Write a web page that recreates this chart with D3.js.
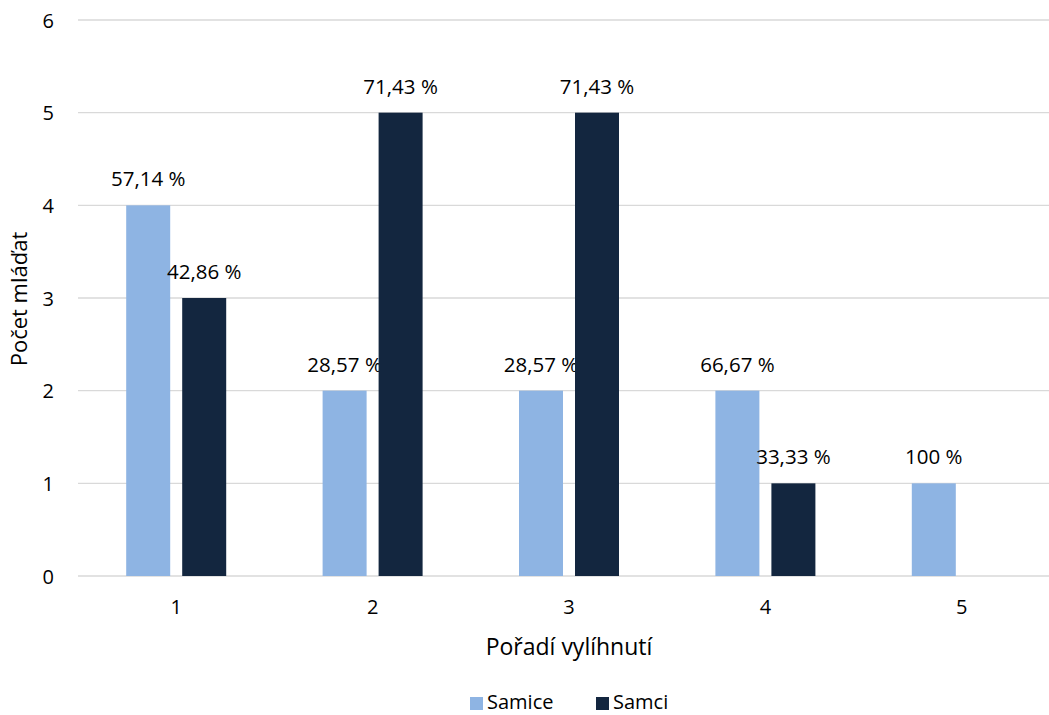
<!DOCTYPE html>
<html>
<head>
<meta charset="utf-8">
<script src="https://cdn.jsdelivr.net/npm/d3@7"></script>
<style>
  html, body { margin: 0; padding: 0; background: #fff; }
  svg { display: block; font-family: "Open Sans", "Liberation Sans", sans-serif; }
</style>
</head>
<body>
<svg id="chart" width="1049" height="715"></svg>
<script>
// Pořadí vylíhnutí – počty samic a samců
const categories = ["1", "2", "3", "4", "5"];
const seriesNames = ["Samice", "Samci"];
const samice = [4, 2, 2, 2, 1];
const samci = [3, 5, 5, 1, 0];
const samiceLabels = ["57,14 %", "28,57 %", "28,57 %", "66,67 %", "100 %"];
const samciLabels = ["42,86 %", "71,43 %", "71,43 %", "33,33 %", null];
const yTicks = [0, 1, 2, 3, 4, 5, 6];
const colors = ["#8EB4E3", "#13263F"];

const svg = d3.select("#chart");
const plotLeft = 78, plotRight = 1060, plotTop = 20, plotBottom = 576;

const x = d3.scaleBand().domain(categories).range([plotLeft, plotRight]);
const y = d3.scaleLinear().domain([0, 6]).range([plotBottom, plotTop]);
const barW = 44, gap = 12;
const xs = d3.scaleBand().domain(seriesNames).range([0, barW * 2 + gap]).paddingInner(gap / (barW + gap));
const groupOffset = (x.bandwidth() - (barW * 2 + gap)) / 2;

// gridlines
svg.append("g")
  .selectAll("line").data(yTicks).join("line")
  .attr("x1", plotLeft).attr("x2", plotRight)
  .attr("y1", d => y(d)).attr("y2", d => y(d))
  .attr("stroke", "#d9d9d9").attr("stroke-width", 1.3);

// y tick labels
svg.append("g")
  .selectAll("text").data(yTicks).join("text")
  .attr("x", 54).attr("y", d => y(d) + 7.5)
  .attr("text-anchor", "end")
  .attr("font-size", 20).attr("fill", "#000")
  .text(d => d);

// x tick labels
svg.append("g")
  .selectAll("text").data(categories).join("text")
  .attr("x", d => x(d) + x.bandwidth() / 2).attr("y", 614)
  .attr("text-anchor", "middle")
  .attr("font-size", 20).attr("fill", "#000")
  .text(d => d);

const series = [
  { name: "Samice", values: samice, labels: samiceLabels, color: colors[0] },
  { name: "Samci", values: samci, labels: samciLabels, color: colors[1] }
];

series.forEach(s => {
  const data = categories.map((c, i) => ({ c, v: s.values[i], l: s.labels[i] }));
  svg.append("g")
    .selectAll("rect").data(data.filter(d => d.v > 0)).join("rect")
    .attr("x", d => x(d.c) + groupOffset + xs(s.name))
    .attr("width", xs.bandwidth())
    .attr("y", d => y(d.v))
    .attr("height", d => y(0) - y(d.v))
    .attr("fill", s.color);
  svg.append("g")
    .selectAll("text").data(data.filter(d => d.l)).join("text")
    .attr("x", d => x(d.c) + groupOffset + xs(s.name) + xs.bandwidth() / 2)
    .attr("y", d => y(d.v) - 19)
    .attr("text-anchor", "middle")
    .attr("font-size", 20.5).attr("fill", "#000")
    .text(d => d.l);
});

// axis titles
svg.append("text")
  .attr("x", 569).attr("y", 655)
  .attr("text-anchor", "middle")
  .attr("font-size", 23).attr("fill", "#000")
  .text("Pořadí vylíhnutí");

svg.append("text")
  .attr("transform", "translate(27,299) rotate(-90)")
  .attr("text-anchor", "middle")
  .attr("font-size", 22).attr("fill", "#000")
  .text("Počet mláďat");

// legend
const legend = svg.append("g");
const legendX = [470, 596];
series.forEach((s, i) => {
  legend.append("rect")
    .attr("x", legendX[i]).attr("y", 697)
    .attr("width", 13).attr("height", 13)
    .attr("fill", s.color);
  legend.append("text")
    .attr("x", legendX[i] + 17).attr("y", 709)
    .attr("font-size", 20).attr("fill", "#000")
    .text(s.name);
});
</script>
</body>
</html>
